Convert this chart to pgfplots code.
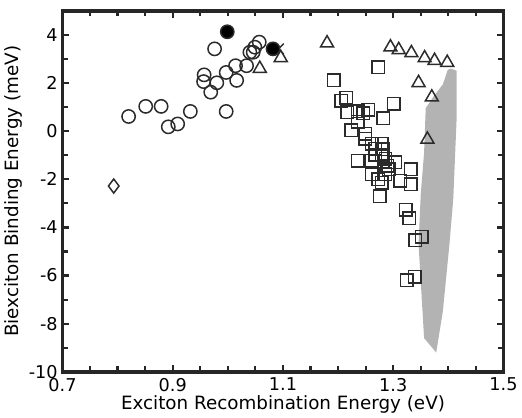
\documentclass[border=0pt]{standalone}
\usepackage{fontspec}
\setmainfont{DejaVu Sans}
\usepackage{pgfplots}
\pgfplotsset{compat=1.18}
\definecolor{mk}{HTML}{2B2B2B}
\definecolor{shade}{HTML}{B3B3B3}

\begin{document}
\begin{tikzpicture}
\begin{axis}[
    scale only axis,
    width=325pt, height=266pt,
    xmin=0.7, xmax=1.5, ymin=-10, ymax=5,
    xtick={0.7,0.9,...,1.5}, minor x tick num=3,
    ytick={-10,-8,...,4}, minor y tick num=1,
    xticklabels={0.7,0.9,1.1,1.3,1.5},
    tick align=inside,
    major tick length=5pt, minor tick length=4pt,
    every tick/.style={line width=1.6pt, black!85},
    axis line style={line width=2.6pt, black!85},
    tick label style={font=\fontsize{13}{15}\selectfont},
    xticklabel style={yshift=-1pt},
    label style={font=\fontsize{13.5}{16}\selectfont},
    /pgf/number format/assume math mode=true,
    xlabel={Exciton Recombination Energy (eV)},
    ylabel={Biexciton Binding Energy (meV)},
    xlabel style={yshift=4pt},
    ylabel style={yshift=-2pt},
    clip=false,
]
% shaded region
\addplot[fill=shade, draw=none] coordinates {
(1.399,2.55) (1.405,2.60) (1.415,2.51) (1.415,0.5) (1.409,-2.8) (1.402,-4.7)
(1.390,-7.5) (1.378,-9.2) (1.356,-8.6) (1.346,-4.7) (1.350,-2.6) (1.356,-0.9)
(1.359,0.96) (1.375,1.5) (1.390,1.94) (1.399,2.55)} -- cycle;

% open circles
\addplot[only marks, mark=o, mark size=4.9pt, mark options={line width=1.1pt, draw=mk}] coordinates {
(0.820,0.61) (0.851,1.03) (0.879,1.03) (0.892,0.18) (0.909,0.30) (0.932,0.82)
(0.997,0.82) (0.957,2.34) (0.956,2.06) (0.969,1.62) (0.980,2.01) (0.976,3.42)
(0.997,2.44) (1.014,2.72) (1.016,2.11) (1.034,2.72) (1.046,3.28) (1.057,3.70)
(1.049,3.49) (1.040,3.28)};

% triangles
\addplot[only marks, mark=triangle, mark size=5.5pt, mark options={line width=1.1pt, draw=mk}] coordinates {
(1.058,2.60) (1.096,3.05) (1.180,3.66) (1.295,3.49) (1.310,3.38) (1.333,3.25)
(1.357,3.04) (1.375,2.93) (1.398,2.85) (1.346,2.01) (1.370,1.41) (1.362,-0.34)};

% squares
\addplot[only marks, mark=square, mark size=4.6pt, mark options={line width=1.1pt, draw=mk}] coordinates {
(1.273,2.65) (1.192,2.11) (1.206,1.27) (1.215,1.38) (1.217,0.79) (1.236,0.82)
(1.246,0.75) (1.255,0.89) (1.301,1.13) (1.282,0.53) (1.224,0.04) (1.236,0.40)
(1.249,-0.10) (1.249,-0.31) (1.261,-0.52) (1.279,-0.52) (1.267,-0.73) (1.282,-0.76)
(1.236,-1.22) (1.261,-1.22) (1.286,-1.15) (1.304,-1.30) (1.332,-1.58) (1.261,-1.79)
(1.286,-1.79) (1.292,-1.58) (1.313,-2.07) (1.332,-2.21) (1.279,-2.14) (1.276,-2.70)
(1.323,-3.27) (1.329,-3.62) (1.267,-0.98) (1.279,-0.98) (1.273,-2.00) (1.289,-1.43)
(1.340,-4.54) (1.352,-4.39) (1.325,-6.20) (1.339,-6.06)};

% cross
\addplot[only marks, mark=x, mark size=5.5pt, mark options={line width=1.1pt, draw=mk}] coordinates {
(1.092,3.42)};

% filled circles
\addplot[only marks, mark=*, mark size=4.9pt, mark options={line width=1.1pt, draw=mk, fill=black}] coordinates {
(0.999,4.13) (1.082,3.42)};

% diamond
\addplot[only marks, mark=diamond, mark size=5.2pt, mark options={line width=1.1pt, draw=mk}] coordinates {
(0.793,-2.28)};
\end{axis}
\path (current axis.north) -- ++(0,8pt);
\end{tikzpicture}
\end{document}
